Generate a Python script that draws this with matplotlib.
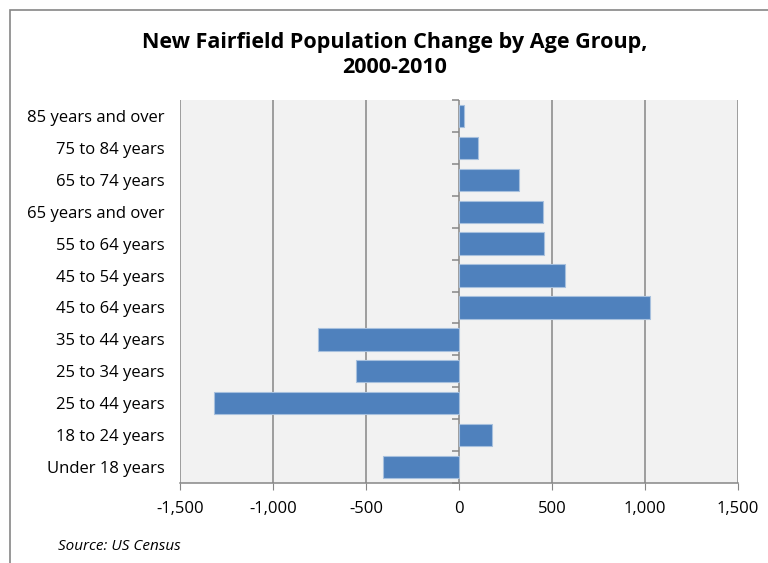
import matplotlib
matplotlib.use("Agg")
import matplotlib.pyplot as plt
from matplotlib.patches import Rectangle
import numpy as np

categories = ["Under 18 years", "18 to 24 years", "25 to 44 years", "25 to 34 years",
              "35 to 44 years", "45 to 64 years", "45 to 54 years", "55 to 64 years",
              "65 years and over", "65 to 74 years", "75 to 84 years", "85 years and over"]
values = [-411, 179, -1316, -554, -758, 1027, 568, 459, 452, 323, 104, 25]
xticks = [-1500, -1000, -500, 0, 500, 1000, 1500]
xtick_labels = ["-1,500", "-1,000", "-500", "0", "500", "1,000", "1,500"]

plt.rcParams['font.family'] = ['Open Sans', 'DejaVu Sans']

fig = plt.figure(figsize=(7.68, 5.63), dpi=100)
ax = fig.add_axes([180/768, 1-483/563, (738-180)/768, (483-100)/563])
ax.set_facecolor('#F2F2F2')

y = np.arange(len(categories))
ax.barh(y, values, height=0.7, color='#4F81BD', edgecolor='#A7C0DE', linewidth=0.8, zorder=3)

ax.set_xlim(-1500, 1500)
ax.set_ylim(-0.5, len(categories) - 0.5)
ax.set_xticks(xticks)
ax.set_xticklabels(xtick_labels, fontsize=12)
ax.set_yticks(y)
ax.set_yticklabels(categories, fontsize=12)
ax.tick_params(axis='y', length=0, pad=11)
ax.tick_params(axis='x', length=5, color='#868686', pad=8, direction='out')
ax.grid(axis='x', color='#868686', linewidth=1.1, zorder=1)
for s in ['top', 'right', 'left']:
    ax.spines[s].set_visible(False)
ax.spines['bottom'].set_color('#868686')
ax.spines['bottom'].set_linewidth(1.1)

sec = ax.secondary_yaxis(0.5)
sec.set_yticks(np.arange(-0.5, len(categories), 1.0))
sec.set_yticklabels([])
sec.tick_params(axis='y', direction='in', length=5, color='#868686', width=1.1)
sec.spines['left'].set_color('#868686')
sec.spines['left'].set_linewidth(1.1)
for s in ['top', 'right', 'bottom']:
    sec.spines[s].set_visible(False)

fig.text(395/768, 1-55/563, "New Fairfield Population Change by Age Group,\n2000-2010",
         ha='center', va='center', fontsize=15.5, fontweight='bold', linespacing=1.2)
fig.text(58/768, 1-546/563, "Source: US Census", fontsize=11, style='italic', va='center', ha='left')

fig.patches.append(Rectangle((10/768, -0.1), 1.2, 1.1 - 10/563, transform=fig.transFigure,
                             fill=False, edgecolor='#868686', linewidth=1.2))

fig.savefig("out.png", dpi=100)
